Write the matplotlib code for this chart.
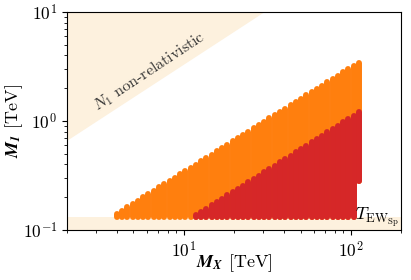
import matplotlib

matplotlib.use("Agg")
import matplotlib.pyplot as plt
import numpy as np

plt.rcParams["mathtext.fontset"] = "cm"
plt.rcParams["font.family"] = "serif"
plt.rcParams["font.serif"] = ["cmr10"]
plt.rcParams["axes.formatter.use_mathtext"] = True
# bold italic for the axis-label symbols (used through the custom math font set)
plt.rcParams["mathtext.bf"] = "STIXGeneral:italic:bold"
plt.rcParams["mathtext.rm"] = "cmr10"

# scan columns in M_X [TeV]
mx_cols = [3.70, 3.98, 4.28, 4.60, 4.95, 5.32, 5.72, 6.15, 6.61, 7.11,
           7.64, 8.22, 8.84, 9.50, 10.21, 10.98, 11.81, 12.70, 13.65, 14.68,
           15.78, 16.97, 18.25, 19.62, 21.09, 22.68, 24.39, 26.22, 28.19, 30.31,
           32.59, 35.04, 37.68, 40.51, 43.56, 46.83, 50.36, 54.14, 58.22, 62.59,
           67.30, 72.36, 77.80, 83.66, 89.95, 96.71, 103.99, 111.81]
# lowest M_1 in each column [TeV]
m1_low = [0.13] * 47 + [0.284]
# highest M_1 of the orange points per column [TeV]
orange_top = [0.131, 0.140, 0.150, 0.161, 0.173, 0.185, 0.199, 0.213, 0.228, 0.245,
              0.262, 0.281, 0.302, 0.323, 0.347, 0.372, 0.398, 0.427, 0.458, 0.491,
              0.526, 0.564, 0.605, 0.648, 0.695, 0.745, 0.799, 0.856, 0.918, 0.984,
              1.055, 1.131, 1.212, 1.300, 1.393, 1.494, 1.601, 1.717, 1.840, 1.973,
              2.115, 2.267, 2.430, 2.605, 2.793, 2.994, 3.209, 3.440]
# highest M_1 of the red points per column [TeV], nan where there are none
nan = float("nan")
red_top = [nan] * 16 + [0.136, 0.146, 0.156, 0.168, 0.180, 0.193, 0.207, 0.222, 0.238, 0.255,
                        0.274, 0.294, 0.315, 0.338, 0.363, 0.389, 0.417, 0.448, 0.480, 0.515,
                        0.553, 0.593, 0.636, 0.682, 0.732, 0.785, 0.842, 0.903, 0.969, 1.039,
                        1.115, 1.196]

x_lim = (2.0, 200.0)
y_lim = (0.1, 10.0)
t_ew = 0.13          # T_EW_Sp [TeV]
nonrel_ratio = 1 / 3  # M_1 = M_X / 3

beige = "#fdf1de"

fig = plt.figure(figsize=(4.11, 2.80), dpi=100)
ax = fig.add_axes([0.163, 0.179, 0.813, 0.778])
ax.set_xscale("log")
ax.set_yscale("log")
ax.set_xlim(*x_lim)
ax.set_ylim(*y_lim)

# shaded regions
ax.axhspan(y_lim[0], t_ew, color=beige, lw=0, zorder=0)
xs = np.array(x_lim)
ax.fill_between(xs, xs * nonrel_ratio, y_lim[1], color=beige, lw=0, zorder=0)

# scan points, each column drawn as a stack of round dots
mx = np.array(mx_cols)
red = np.array(red_top)
has_red = np.isfinite(red)
col_lw = 4.3
orange_cols = ax.vlines(mx, m1_low, orange_top, color="#ff7f0e", lw=col_lw, zorder=2)
red_cols = ax.vlines(mx[has_red], np.array(m1_low)[has_red], red[has_red], color="#d62728",
                     lw=col_lw, zorder=3)
for coll in (orange_cols, red_cols):
    coll.set_capstyle("round")

ax.text(6.27, 2.82, r"$N_1$ non-relativistic", rotation=33.5, ha="center", va="center",
        fontsize=11.5, color="#333333", rotation_mode="anchor")
ax.text(194, 0.101, r"$T_{\mathrm{EW}_{\mathrm{Sp}}}$", ha="right", va="bottom", fontsize=13)

xl = ax.set_xlabel(r"$\mathbf{M_X}$ [TeV]", fontsize=13, labelpad=0)
yl = ax.set_ylabel(r"$\mathbf{M_1}$ [TeV]", fontsize=13, labelpad=0)
for lab in (xl, yl):
    lab.set_math_fontfamily("custom")
ax.xaxis.set_label_coords(0.5, -0.105)
ax.yaxis.set_label_coords(-0.125, 0.5)
ax.tick_params(which="both", labelsize=12.5)

fig.savefig("out.png", dpi=100)
